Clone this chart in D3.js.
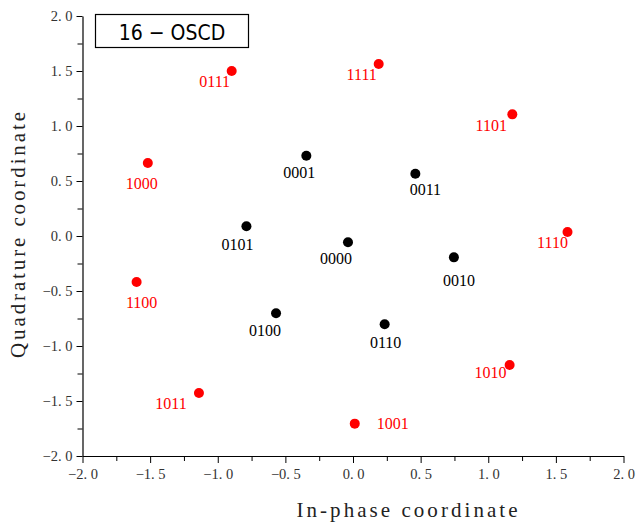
<!DOCTYPE html>
<html>
<head>
<meta charset="utf-8">
<script src="https://cdn.jsdelivr.net/npm/d3@7"></script>
<style>
  body { margin: 0; background: #fff; }
  svg { display: block; }
</style>
</head>
<body>
<script>
// constellation points
const outerLabels = ["0111", "1111", "1101", "1000", "1110", "1100", "1010", "1011", "1001"];
const outerI = [-0.897, 0.19, 1.178, -1.517, 1.586, -1.60, 1.158, -1.139, 0.013];
const outerQ = [1.50, 1.564, 1.106, 0.664, 0.036, -0.418, -1.173, -1.427, -1.706];

const innerLabels = ["0001", "0011", "0101", "0000", "0010", "0100", "0110"];
const innerI = [-0.345, 0.461, -0.788, -0.037, 0.746, -0.569, 0.234];
const innerQ = [0.73, 0.566, 0.088, -0.057, -0.194, -0.703, -0.803];

const majorTicks = [-2.0, -1.5, -1.0, -0.5, 0.0, 0.5, 1.0, 1.5, 2.0];
const minorTicks = [-1.75, -1.25, -0.75, -0.25, 0.25, 0.75, 1.25, 1.75];

const title = "16 − OSCD";
const xTitle = "In-phase coordinate";
const yTitle = "Quadrature coordinate";

// label placement around each dot (layout only)
const labelOffset = {
  "0111": [-17, 16], "1111": [-17, 16], "1101": [-21, 17], "1000": [-6, 26],
  "1110": [-15, 16], "1100": [5, 26], "1010": [-19, 13], "1011": [-28, 16],
  "1001": [38, 5],
  "0001": [-7, 22], "0011": [10, 21], "0101": [-9, 24], "0000": [-12, 22],
  "0010": [5, 29], "0100": [-11, 23], "0110": [1, 24]
};

const width = 636, height = 522;
const margin = {top: 16, right: 12.5, bottom: 66, left: 82.5};

const svg = d3.select("body").append("svg")
    .attr("width", width)
    .attr("height", height);

const x = d3.scaleLinear()
    .domain([-2, 2])
    .range([margin.left, width - margin.right]);

const y = d3.scaleLinear()
    .domain([-2, 2])
    .range([height - margin.bottom, margin.top]);

const serif = "'Liberation Serif', 'DejaVu Serif', serif";
// ticks read like "2. 0" in the picture
const fmt = d => d3.format(".1f")(d).replace(".", ". ");

// bottom axis
svg.append("g")
    .attr("transform", `translate(0,${height - margin.bottom})`)
    .call(d3.axisBottom(x).tickValues(minorTicks).tickSize(5).tickFormat(""))
    .call(g => g.select(".domain").remove());

svg.append("g")
    .attr("transform", `translate(0,${height - margin.bottom})`)
    .call(d3.axisBottom(x).tickValues(majorTicks).tickSize(7).tickSizeOuter(0).tickPadding(6)
      .tickFormat(fmt))
    .call(g => g.selectAll("text")
        .attr("font-family", serif)
        .attr("font-size", 14.5)
        .attr("fill", "#333"));

// left axis
svg.append("g")
    .attr("transform", `translate(${margin.left},0)`)
    .call(d3.axisLeft(y).tickValues(minorTicks).tickSize(5).tickFormat(""))
    .call(g => g.select(".domain").remove());

svg.append("g")
    .attr("transform", `translate(${margin.left},0)`)
    .call(d3.axisLeft(y).tickValues(majorTicks).tickSize(6).tickSizeOuter(0).tickPadding(4)
      .tickFormat(fmt))
    .call(g => g.selectAll("text")
        .attr("font-family", serif)
        .attr("font-size", 14.5)
        .attr("fill", "#333"));

svg.selectAll(".domain").attr("stroke", "#000").attr("stroke-width", 1.2);
svg.selectAll(".tick line").attr("stroke", "#000");

// axis titles
svg.append("text")
    .attr("x", 407)
    .attr("y", 517)
    .attr("text-anchor", "middle")
    .attr("font-family", serif)
    .attr("font-size", 21)
    .attr("fill", "#222")
    .attr("textLength", 221)
    .attr("lengthAdjust", "spacing")
    .text(xTitle);

svg.append("text")
    .attr("transform", "translate(25,235) rotate(-90)")
    .attr("text-anchor", "middle")
    .attr("font-family", serif)
    .attr("font-size", 21)
    .attr("fill", "#222")
    .attr("textLength", 246)
    .attr("lengthAdjust", "spacing")
    .text(yTitle);

// title box
svg.append("rect")
    .attr("x", 95.5)
    .attr("y", 14.5)
    .attr("width", 153)
    .attr("height", 33)
    .attr("fill", "#fff")
    .attr("stroke", "#000")
    .attr("stroke-width", 1.2);

svg.append("text")
    .attr("x", 172)
    .attr("y", 40)
    .attr("text-anchor", "middle")
    .attr("font-family", "'Liberation Sans Narrow', 'DejaVu Sans Condensed', sans-serif")
    .attr("font-size", 21)
    .attr("fill", "#000")
    .text(title);

// points
function drawSet(labels, iv, qv, color) {
  const data = labels.map((l, k) => ({label: l, i: iv[k], q: qv[k]}));
  const g = svg.append("g");
  g.selectAll("circle")
    .data(data)
    .enter().append("circle")
      .attr("cx", d => x(d.i))
      .attr("cy", d => y(d.q))
      .attr("r", 5)
      .attr("fill", color);
  g.selectAll("text")
    .data(data)
    .enter().append("text")
      .attr("x", d => x(d.i) + labelOffset[d.label][0])
      .attr("y", d => y(d.q) + labelOffset[d.label][1])
      .attr("text-anchor", "middle")
      .attr("font-family", serif)
      .attr("font-size", 16)
      .attr("fill", color)
      .text(d => d.label);
}

drawSet(outerLabels, outerI, outerQ, "#ff0000");
drawSet(innerLabels, innerI, innerQ, "#000000");
</script>
</body>
</html>
